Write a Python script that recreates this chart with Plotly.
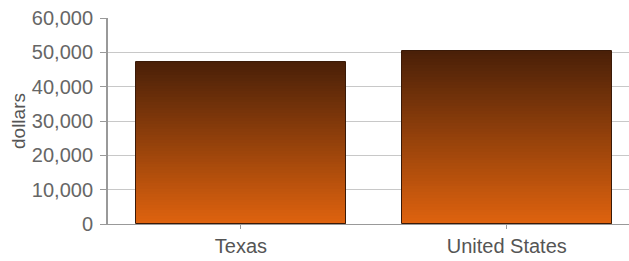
import plotly.graph_objects as go

categories = ["Texas", "United States"]
values = [47300, 50500]
tick_vals = [0, 10000, 20000, 30000, 40000, 50000, 60000]
tick_text = ["0", "10,000", "20,000", "30,000", "40,000", "50,000", "60,000"]

top_rgb = (74, 32, 8)
bot_rgb = (222, 98, 14)
N = 60

fig = go.Figure()
for i in range(N):
    t = i / (N - 1)
    r = round(bot_rgb[0] + (top_rgb[0] - bot_rgb[0]) * t)
    g = round(bot_rgb[1] + (top_rgb[1] - bot_rgb[1]) * t)
    b = round(bot_rgb[2] + (top_rgb[2] - bot_rgb[2]) * t)
    fig.add_trace(go.Bar(
        x=categories,
        y=[v / N for v in values],
        base=[v * i / N for v in values],
        marker=dict(color=f"rgb({r},{g},{b})", line=dict(width=0)),
        width=0.79,
        showlegend=False,
        hoverinfo="skip",
    ))

fig.add_trace(go.Bar(
    x=categories,
    y=values,
    base=[0, 0],
    marker=dict(color="rgba(0,0,0,0)", line=dict(color="#3a1a08", width=1)),
    width=0.79,
    showlegend=False,
))

fig.update_layout(
    barmode="overlay",
    width=629,
    height=261,
    margin=dict(l=108, r=0, t=18, b=37),
    paper_bgcolor="white",
    plot_bgcolor="white",
    font=dict(family="Liberation Sans, Arial, sans-serif", color="#555555", size=20),
    bargap=0,
)
fig.update_xaxes(
    range=[-0.5, 1.46],
    showline=True, linecolor="#999999", linewidth=1,
    ticks="outside", ticklen=4, tickcolor="#999999",
    showgrid=False,
    tickfont=dict(size=20, color="#555555"),
)
fig.update_yaxes(
    range=[0, 60000],
    tickvals=tick_vals, ticktext=tick_text,
    showline=True, linecolor="#999999", linewidth=2,
    ticks="outside", ticklen=6, tickcolor="#999999",
    ticklabelstandoff=3,
    showgrid=True, gridcolor="#c8c8c8", gridwidth=1,
    zeroline=False,
    tickfont=dict(size=20, color="#666666"),
    title=dict(text="dollars", font=dict(size=19, color="#555555"), standoff=1),
)

fig.write_html(
    "out.html",
    config={"displayModeBar": False},
    post_script="document.body.style.margin='0';document.body.style.padding='0';",
)
